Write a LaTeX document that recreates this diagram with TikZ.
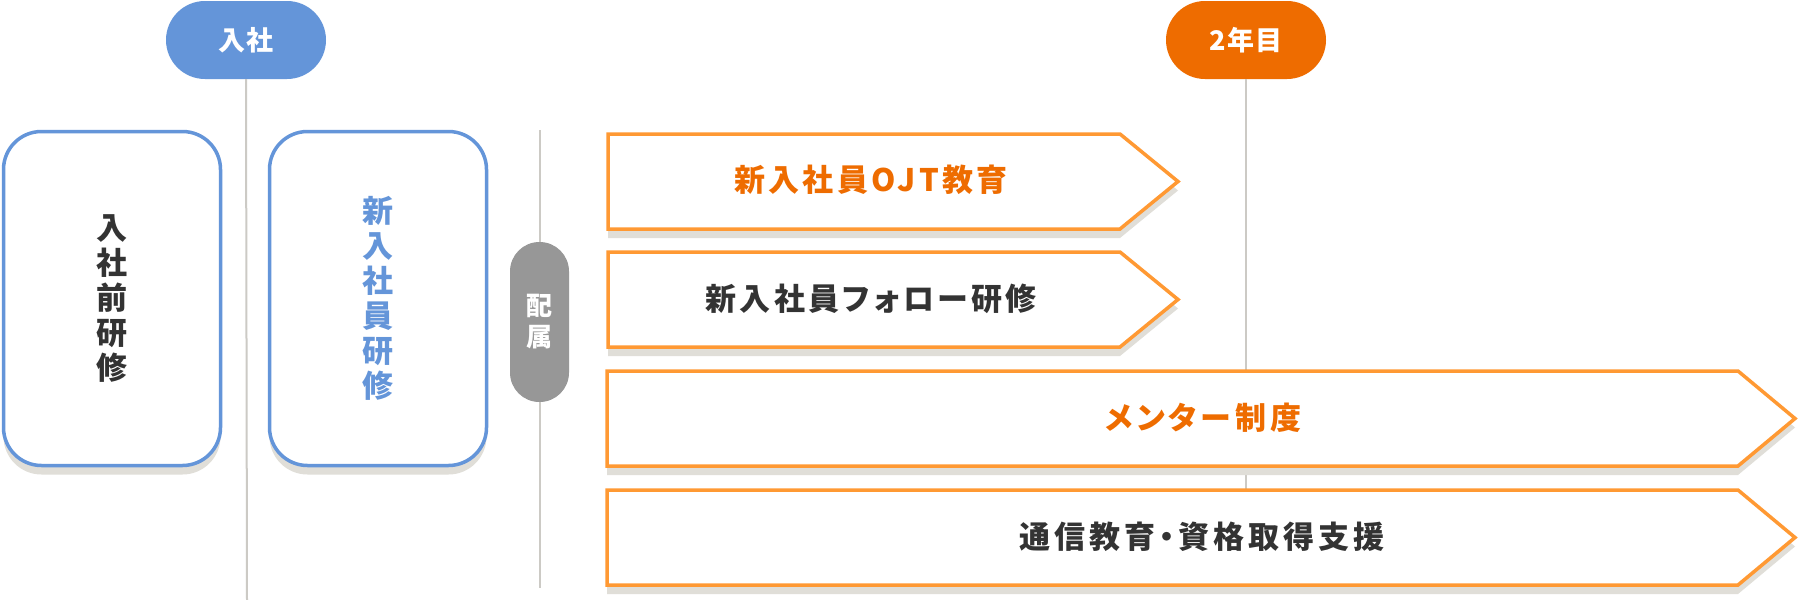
\documentclass[tikz,border=0pt]{standalone}
\usepackage{fontspec}
\setmainfont{Noto Sans CJK JP}
\usetikzlibrary{shapes.misc,shadows}
\definecolor{cblue}{HTML}{6495D9}
\definecolor{corange}{HTML}{EE6C00}
\definecolor{cstroke}{HTML}{FF9933}
\definecolor{cshadow}{HTML}{E0DED8}
\definecolor{cgray}{HTML}{979797}
\definecolor{cline}{HTML}{CCCAC5}
\definecolor{ctext}{HTML}{333333}
\begin{document}
\begin{tikzpicture}[x=1pt,y=-1pt,
  vline/.style={draw=cline,line width=2pt},
  pill/.style={rounded rectangle,inner sep=0pt,text=white,
    font=\fontsize{27}{30}\selectfont\bfseries\addfontfeature{LetterSpace=6}},
  bigbox/.style={draw=cblue,fill=white,line width=3.5pt,rounded corners=38pt,
    minimum width=217pt,minimum height=334pt,inner sep=0pt,
    drop shadow={shadow xshift=0pt,shadow yshift=-9pt,fill=cshadow,opacity=1}},
  vtext/.style={align=center,inner sep=0pt,
    font=\fontsize{31}{35}\selectfont\bfseries},
  arrowbox/.style={draw=cstroke,fill=white,line width=3.5pt,line join=miter,
    drop shadow={shadow xshift=0pt,shadow yshift=-9pt,fill=cshadow,opacity=1}},
  atext/.style={inner sep=0pt,
    font=\fontsize{31}{35}\selectfont\bfseries\addfontfeature{RawFeature=+palt,LetterSpace=13}},
  atextn/.style={inner sep=0pt,
    font=\fontsize{31}{35}\selectfont\bfseries\addfontfeature{RawFeature=+palt,LetterSpace=11}}
]
\useasboundingbox (0,0) rectangle (1800,600);
\fill[white] (0,0) rectangle (1800,600);

% top pills
\node[pill,fill=cblue,minimum width=160pt,minimum height=78pt] (nyusha) at (246,40) {入社};
\node[pill,fill=corange,minimum width=160pt,minimum height=78pt] (year2) at (1246,40) {2年目};

% guide lines
\coordinate (l1end) at (247,600);
\coordinate (h1) at (540,130);
\coordinate (h2) at (540,588);
\coordinate (l3end) at (1246,492);
\draw[vline] (nyusha.south) -- (l1end);
\draw[vline] (h1) -- (h2);
\draw[vline] (year2.south) -- (l3end);

% left boxes
\node[bigbox] (pre) at (112,298.5) {};
\node[vtext,text=ctext] (pretext) at (pre.center) {入\\社\\前\\研\\修};
\node[bigbox] (new) at (378,298.5) {};
\node[vtext,text=cblue] (newtext) at (new.center) {新\\入\\社\\員\\研\\修};

% haizoku pill
\node[rectangle,fill=cgray,minimum width=59pt,minimum height=160pt,inner sep=0pt,
  rounded corners=29.4pt] (haizoku) at (539.5,322) {};
\node[align=center,inner sep=0pt,text=white,font=\fontsize{26}{31}\selectfont\bfseries] (haizokutext) at (haizoku.center) {配\\属};

% arrows
\draw[arrowbox] (608,134) -- (1120,134) -- (1178,181.5) -- (1120,229) -- (608,229) -- cycle;
\draw[arrowbox] (608,252) -- (1120,252) -- (1178,299.5) -- (1120,347) -- (608,347) -- cycle;
\draw[arrowbox] (607,371) -- (1738,371) -- (1795,418.5) -- (1738,466) -- (607,466) -- cycle;
\draw[arrowbox] (607,490) -- (1738,490) -- (1795,537.5) -- (1738,585) -- (607,585) -- cycle;

\node[atextn,text=corange] (ojt) at (871,180) {新入社員OJT教育};
\node[atextn,text=ctext] (follow) at (871,299) {新入社員フォロー研修};
\node[atext,text=corange] (mentor) at (1203,418) {メンター制度};
\node[atext,text=ctext] (tsushin) at (1202,537) {通信教育・資格取得支援};
\end{tikzpicture}
\end{document}
